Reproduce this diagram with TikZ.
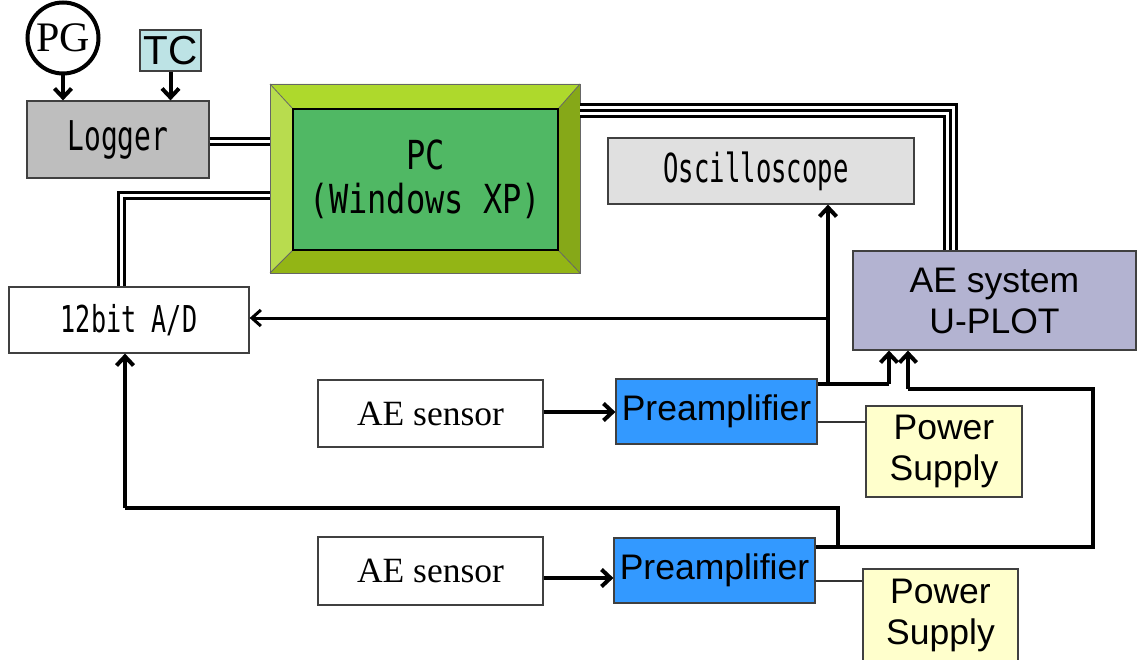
\documentclass[tikz,border=0pt]{standalone}
\usepackage{fontspec}
\usepackage{graphicx}
\setmainfont{Liberation Serif}
\setsansfont{Liberation Sans}
\setmonofont{DejaVu Sans Mono}
\usetikzlibrary{arrows.meta,calc}
\newcommand\gothtext[3]{\scalebox{#2}[1]{\fontsize{#1}{#1}\selectfont\ttfamily #3}}
\definecolor{tccol}{HTML}{BDE3E5}
\definecolor{loggercol}{HTML}{BEBEBE}
\definecolor{osccol}{HTML}{E0E0E0}
\definecolor{aecol}{HTML}{B3B3D1}
\definecolor{precol}{HTML}{3399FF}
\definecolor{pscol}{HTML}{FFFFCC}
\definecolor{pcin}{HTML}{50B864}
\definecolor{bvtop}{HTML}{AED92C}
\definecolor{bvleft}{HTML}{B8DC4E}
\definecolor{bvright}{HTML}{86A818}
\definecolor{bvbot}{HTML}{93B515}
\begin{document}
\begin{tikzpicture}[x=1pt,y=-1pt,
  box/.style={draw=black!75, line width=1.2pt, inner sep=0pt, anchor=center},
  sftext/.style={font=\fontsize{35.5}{41}\selectfont\sffamily, align=center},
  rmtext/.style={font=\fontsize{35.5}{41}\selectfont\rmfamily},
  arr/.style={line width=4pt, -{Straight Barb[length=9pt,width=17pt]}},
  thinarr/.style={line width=3pt, -{Straight Barb[length=9pt,width=16pt]}},
  wire/.style={line width=4pt},
  thinwire/.style={line width=1.2pt, draw=black!80},
  dbl/.style={line width=3pt, double=white, double distance=3pt},
  bevel/.style={draw=black!60, line width=0.8pt}]
\useasboundingbox (0,0) rectangle (1137,660);

% PG and TC
\node[circle, draw=black, line width=4pt, minimum size=71pt, inner sep=0pt,
  font=\fontsize{42}{42}\selectfont\rmfamily] (pg) at (63,38) {PG};
\node[box, fill=tccol, minimum width=61pt, minimum height=41pt,
  font=\fontsize{40.5}{40.5}\selectfont\sffamily] (tc) at (170.5,50.5) {TC};

% Logger
\node[box, fill=loggercol, minimum width=182pt, minimum height=77pt] (logger) at (118,139.5) {\gothtext{41}{0.68}{Logger}};

% PC with bevel frame
\fill[bvtop]  (270,84) -- (580,84) -- (558,109) -- (293,109) -- cycle;
\fill[bvleft] (270,84) -- (293,109) -- (293,250) -- (270,273) -- cycle;
\fill[bvright](580,84) -- (580,273) -- (558,250) -- (558,109) -- cycle;
\fill[bvbot]  (270,273) -- (293,250) -- (558,250) -- (580,273) -- cycle;
\draw[bevel] (270,84) rectangle (580,273);
\draw[bevel] (270,84) -- (293,109) (580,84) -- (558,109) (580,273) -- (558,250) (270,273) -- (293,250);
\node[inner sep=0pt, minimum width=310pt, minimum height=189pt] (pc) at (425,178.5) {};
\node[draw=black, line width=1.6pt, fill=pcin, inner sep=0pt, minimum width=265pt, minimum height=141pt, align=center,
  font=\fontsize{40}{44}\selectfont] (pcinner) at (425.5,179.5)
  {\gothtext{40}{0.8}{PC}\\\gothtext{40}{0.8}{(Windows XP)}};

% Oscilloscope
\node[box, fill=osccol, minimum width=306pt, minimum height=66pt] (osc) at (761,171) {\gothtext{40}{0.64}{Oscilloscope}\hspace*{10pt}};

% AE system
\node[box, fill=aecol, minimum width=283pt, minimum height=99pt, sftext] (ae) at (994.5,300.5) {AE system\\U-PLOT};

% A/D
\node[box, fill=white, minimum width=240pt, minimum height=66pt] (ad) at (129,320) {\gothtext{37}{0.68}{12bit A/D}};

% Sensors
\node[box, fill=white, minimum width=225pt, minimum height=67pt, rmtext] (s1) at (430.5,413.5) {AE sensor};
\node[box, fill=white, minimum width=225pt, minimum height=68pt, rmtext] (s2) at (430.5,571) {AE sensor};

% Preamplifiers
\node[box, fill=precol, minimum width=201pt, minimum height=65pt, sftext] (p1) at (716.5,411.5) {Preamplifier};
\node[box, fill=precol, minimum width=201pt, minimum height=65pt, sftext] (p2) at (714.5,570.5) {Preamplifier};

% Power supplies
\node[box, fill=pscol, minimum width=156pt, minimum height=91pt, sftext] (ps1) at (944,451.5) {Power\\Supply};
\node[box, fill=pscol, minimum width=155pt, minimum height=92pt, sftext] (ps2) at (940.5,615) {Power\\Supply};

% ---- connectors ----
\draw[arr] (pg.south) -- (pg.south |- logger.north);
\draw[arr] (tc.south) -- (tc.south |- logger.north);

% double lines
\coordinate (lgy) at (240,142);
\draw[dbl] (logger.east |- lgy) -- (pc.west |- lgy);
\coordinate (adc) at (121,196);
\draw[dbl] (pc.west |- adc) -- (adc) -- (adc |- ad.north);
\coordinate (aec) at (950,111);
\draw[line width=3pt, double=white, double distance=9pt] (pc.east |- aec) -- (aec) -- (aec |- ae.north);
\draw[line width=3pt] (pc.east |- aec) -- (aec) -- (aec |- ae.north);

% preamp 1 outputs
\coordinate (j1) at (828,384);
\coordinate (a1) at (889,384);
\draw[wire] (p1.east |- j1) -- (a1);
\draw[arr] (a1) -- (a1 |- ae.south);
\draw[arr] ([yshift=-2pt]j1) -- (j1 |- osc.south);
\coordinate (adin) at (828,318);
\draw[thinarr] (adin) -- (ad.east |- adin);

% preamp 2 outputs
\coordinate (j2) at (838,547);
\coordinate (r2) at (1093,547);
\coordinate (r2t) at (1093,389);
\coordinate (a2) at (908,389);
\draw[wire] (p2.east |- j2) -- (r2) -- (r2t) -- (a2);
\draw[arr] (a2) -- (a2 |- ae.south);
\coordinate (b2) at (838,508);
\coordinate (b2l) at (125,508);
\draw[wire] (j2) -- (b2) -- (b2l);
\draw[arr] (b2l) -- (b2l |- ad.south);

% power supply lines
\coordinate (pw1) at (840,422);
\draw[thinwire] (p1.east |- pw1) -- (ps1.west |- pw1);
\coordinate (pw2) at (840,581);
\draw[thinwire] (p2.east |- pw2) -- (ps2.west |- pw2);

% sensor arrows
\coordinate (sa1) at (580,412);
\draw[arr] (s1.east |- sa1) -- (p1.west |- sa1);
\coordinate (sa2) at (580,578);
\draw[arr] (s2.east |- sa2) -- (p2.west |- sa2);
\end{tikzpicture}
\end{document}
